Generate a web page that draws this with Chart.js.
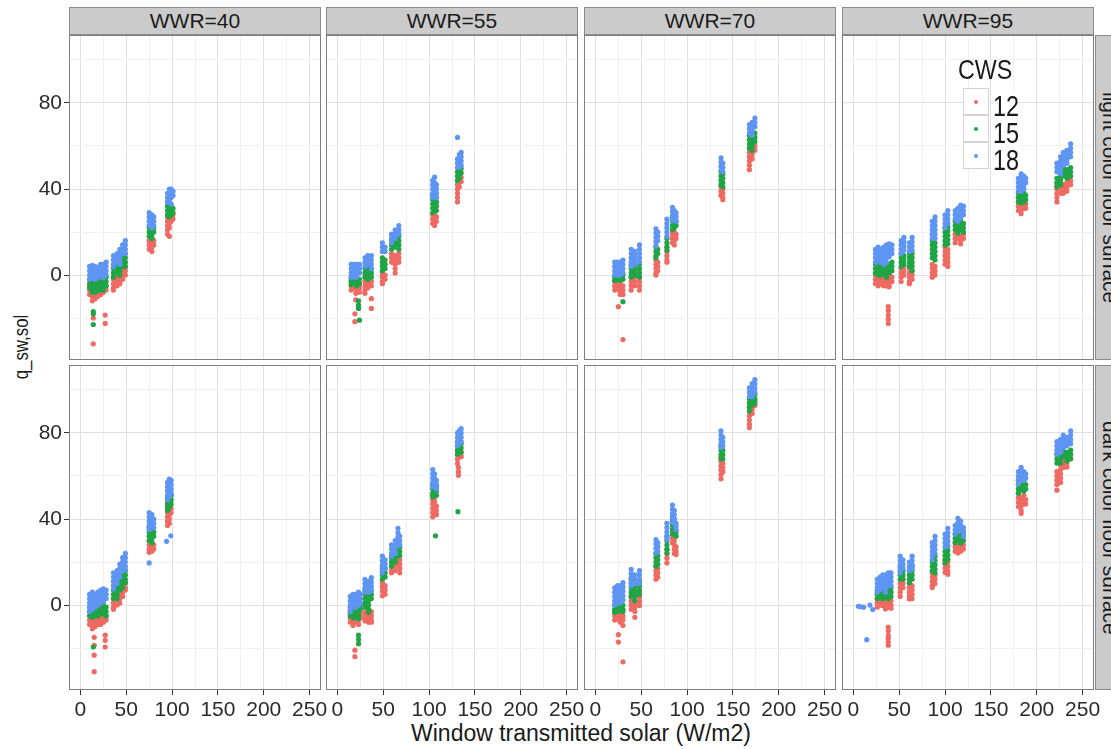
<!DOCTYPE html>
<html>
<head>
<meta charset="utf-8">
<script src="https://cdn.jsdelivr.net/npm/chart.js@4.4.0/dist/chart.umd.min.js"></script>
<style>
  body { margin: 0; width: 1111px; height: 749px; overflow: hidden; position: relative; background: #fff;
         font-family: "Liberation Sans", Arial, sans-serif; color: #1a1a1a; }
  canvas { position: absolute; }
  .strip { position: absolute; box-sizing: border-box; background: #cbcbcb; border: 1px solid #8a8a8a;
           font-size: 21px; display: flex; align-items: center; justify-content: center; white-space: nowrap; }
  .side { writing-mode: vertical-rl; }
  .title { position: absolute; white-space: nowrap; }
  .legend { position: absolute; z-index: 5; }
  .key { position: absolute; box-sizing: border-box; width: 26px; height: 27px; background: #fff; border: 1px solid #d3d3d3; }
  .key i { position: absolute; left: 10px; top: 10.5px; width: 4px; height: 4px; border-radius: 50%; }
  .lab { position: absolute; font-size: 30px; line-height: 27px; background: #fff; transform: scaleX(0.78); transform-origin: left center; }
</style>
</head>
<body>
<script>
// facet labels and legend
const columnLabels = ['WWR=40', 'WWR=55', 'WWR=70', 'WWR=95'];
const rowLabels = ['light color floor surface', 'dark color floor surface'];
const cwsLabels = ['12', '15', '18'];
const cwsColors = ['#EE6A62', '#1FA544', '#5E95F2'];

// axis ticks (minor ones get grid lines only)
const xTicks = [0, 25, 50, 75, 100, 125, 150, 175, 200, 225, 250];
const xLabelTicks = [0, 50, 100, 150, 200, 250];
const yTicks = [-20, 0, 20, 40, 60, 80, 100];
const yLabelTicks = [0, 40, 80];

// each entry: [x, y, y, ...]
// ---- light color floor surface ----
const light40_12 = [[10,-5,-7,-9],[13,-6,-8,-10,-12],[16,-5,-7,-9,-11],[19,-6,-8,-10],[22,-5,-7,-9],[25,-6,-8],[28,-5,-7],
  [14,-20,-32],[27,-18.6,-22.5],
  [36,-2,-4,-6,-7],[40,-1,-3,-5],[43,0,-2,-4],[46,2,0,-2],[49,4,2,0],
  [75,16,14,12],[78,17,15,13,11],[80,16,14],
  [95,27,25,23,21,19],[97,28,26,24,22,18],[99,27,25],[101,28,26]];
const light40_15 = [[10,-2,-4,-6],[13,-2.5,-4.5,-6.5,-8],[16,-2,-4,-6,-8],[19,-3,-5,-7],[22,-1,-3,-5,-7],[25,-1,-3,-5,-7],[28,-1,-3,-5],
  [14,-17,-18,-23],
  [36,3,1,-1],[40,5,3,1],[43,6,4,2,0],[46,8,6,4],[49,10,8,6,4],
  [75,22,20,18],[78,21,19,17],[80,22,20],
  [95,32,30,28],[97,33,31,29,27],[99,32,30,28],[101,31,29]];
const light40_18 = [[10,4,2,0,-2],[13,4.5,2.5,0.5,-1.5],[16,4,2,0,-2],[19,3.5,1.5,-0.5],[22,5,3,1,-1],[25,5,3,1,-1],[28,6,4,2,0],
  [36,9,7,5,4],[40,10,8,6],[43,12,10,8,6,5],[46,14,12,10],[49,16,14,12,10],
  [75,29,27,25,23],[78,28,26,24,22],[80,27,25,23],
  [95,38,36,34],[97,40,38,36,34],[99,40,38,36,33],[101,39,37]];

const light55_12 = [[15,-3,-5,-7],[18,-4,-6],[21,-3,-5,-7],[24,-4,-6,-8],[20,-8.5,-11.5],[19,-18,-21.7],
  [30,-3,-5,-7,-8.5],[33,-2,-4,-6],[37,-3,-5,-11,-15.5],
  [49,1,-1,-3,-4],[52,0,-2],
  [59,10,8,6],[63,9,7,5,3,1],[67,10,8,6],
  [104,28,26,24],[106,28.5,26.5,24.5,23],[108,27,25],
  [131,44,42,40,38,36,34],[133,45,43,41],[135,45.5,43.5]];
const light55_15 = [[15,-1.5,-3,-4.5],[18,-2,-3.5],[21,-1,-3,-5],[24,-2,-4],[23,-12,-14,-15.5],[24,-21],
  [30,3,1,-1],[33,4,2,0,-2],[37,3,1,-1],
  [49,8,6,4,2],[52,7,5,3],
  [59,16,14,12],[63,19,17,15,13],[67,18,16,14,12],
  [104,37,35,33,31,29],[106,38,36,34],[108,36,34,32,30],
  [131,48,46,44],[133,49,47,45],[135,49.5,47.5]];
const light55_18 = [[15,5,3,1,-1],[18,5,3,1,-1],[21,5,3,1,-1],[24,5,3,1],
  [30,8,6,4],[33,9,7,5],[37,9,7,5,3],
  [49,15,13,11],[52,13,11],
  [59,19,17,15],[63,21,19,17],[67,23,21,19],
  [104,44,42,40,38,36],[106,45.5,43,41,39],[108,42,40,38,36],
  [131,64],[131,54,52,50],[133,56,54,52,50],[135,57,55,53,51]];

const light70_12 = [[21,-3,-5,-7],[24,-2.5,-4.5,-6.5],[27,-4,-6,-8,-9],[30,-5,-7,-9],[25,-14.7],[30,-30],
  [39,-1,-3,-5,-7],[43,-1,-3,-5],[48,-1,-3,-5,-7],
  [66,7,5,3,1,0],[68,6,4,2],
  [78,13,11,9,7,6],
  [84,21,19,17,15],[86,20,18,16,14],[88,19,17],
  [137,41,39,37],[139,40,38,36,35],
  [168,59,57,55,53,51,49],[171,58,56,54],[174,60,58]];
const light70_15 = [[21,-1,-2.5],[24,0,-2],[27,-1,-2.5],[30,0,-2],[30,-12.4],
  [39,5,3,1,-1],[43,4,2,0],[48,5,3,1,-1],
  [66,13,11,9,8],[68,12,10],
  [78,17,15,13,11.5],
  [84,27,25,23,21],[86,26,24,22],[88,25,23],
  [137,48,46,44,42],[139,47,45,43,41],
  [168,65,63,61,59],[171,64,62,60,58],[174,66,64,62]];
const light70_18 = [[21,6,4,2,0],[24,6,4,2,0],[27,6,4,2,0],[30,7,5,3,1],
  [39,12,10,8,6,4],[43,11,9,7,5],[48,14,12,10,8,6],
  [66,21.5,19.5,17.5,15.5,13.5],[68,20,18,16],
  [78,26,24,22,20,18],
  [84,31.5,29.5,27.5,25.5],[86,30,28,26],[88,29,27,25],
  [137,54.5,52.5,50.5,48.5],[139,52,50,48],
  [168,70,68,66],[171,71,69,67,65],[174,73,71,69]];

const light95_12 = [[24,0,-2,-4],[27,1,-1,-3,-5],[30,0,-2,-4],[33,0,-2,-4,-5],[36,-1,-3,-5],[39,0,-2,-4,-5.5],[42,-1,-3],
  [38,-14.7,-16.5,-18.6,-20.5,-22.5],
  [52,3,1,-1,-3],[55,4,2,0],[61,3,1,-1,-3,-4],[64,2,0,-2],
  [86,5,3,1,-1],[89,4,2,0],
  [100,13,11,9,7,5],[103,12,10,8,6,4],
  [111,19,17,15],[114,19,17],[117,18,16,14.5],[120,19,17],
  [180,36,34,32,30],[183,34,32,30,28.5],[186,35,33,31],[188,33,31],
  [222,42,40,38,36,34],[226,44,42,40,38],[229,42,40,38],[233,43,41,39],[237,44,42]];
const light95_15 = [[24,5,3,1],[27,5,3,1,0],[30,4,2,0],[33,5,3,1],[36,5,3,1,-1],[39,5,3,1],[42,6,4,2],
  [52,10,8,6,4],[55,9,7,5],[61,10,8,6,4],[64,10,8,6,4,2],
  [86,16,14,12,10,8],[89,15,13,11,9,7],
  [100,22,20,18,16,14],[103,22.5,20.5,18.5,16.5,14.5],
  [111,25,23,21],[114,25.5,23.5,21.5,19.5],[117,25,23,21],[120,24,22,20],
  [180,38,36,34],[183,37,35,33.5],[186,38,36,34],[188,37,35],
  [222,45,43,41],[226,48,46,44,42],[229,50,48,46],[233,49,47,45],[237,50,48,46]];
const light95_18 = [[24,12,10,8,6],[27,13,11,9,7],[30,12,10,8,6],[33,13,11,9,7,5],[36,14,12,10,8,6],[39,14.5,12.5,10.5,8.5],[42,14,12,10],
  [52,16,14,12,10],[55,17.5,15.5,13.5,11.5],[61,15,13,11],[64,17.5,15.5,13.5,11.5],
  [86,25,23,21,19,17],[89,27,25,23,21,19,17],
  [100,28,26,24,22],[103,30,28,26,24],
  [111,30,28,26],[114,31,29,27,25],[117,32.5,30.5,28.5,26.5],[120,32,30,28],
  [180,45,43,41,39],[183,47,45,43,41,39],[186,46,44,42,40],[188,45,43],
  [222,52,50,48],[226,55,53,51,49,47],[229,57,55,53,51],[233,58,56,54,52],[237,61,59,57,55]];

// ---- dark color floor surface ----
const dark40_12 = [[10,-5,-7,-9],[13,-5,-7,-9,-11],[16,-6,-8,-10],[19,-5,-7,-9],[22,-5,-7,-9],[25,-6,-8],[28,-5,-7],
  [15,-15,-18.7,-23.3,-31],[27,-14,-16.4,-19.5],
  [36,3,1,-1,-2],[40,4,2,0],[43,7,5,3,1],[46,8,6,4],[49,10,8,7],
  [75,30,28,26,24.5],[78,29,27,25],[80,28,26],
  [95,47,45,43,41,39,37],[97,46,44,42,40,38],[99,45,43]];
const dark40_15 = [[10,-1,-3,-5],[13,-1,-3,-5,-5.7],[16,-1,-3,-5],[19,-1,-3,-5],[22,0,-2,-4],[25,0,-2,-4],[28,-1,-3,-5],[14,-19.5],
  [36,7,5,3],[40,9,7,5,3],[43,13,11,9,7],[46,14,12,10,8],[49,16,14,12,10.5],
  [75,36,34,32,30],[78,35,33,31,29],[80,34,32],
  [95,50,48,46,44],[97,51.5,49.5,47.5,45.5],[99,51,49,47]];
const dark40_18 = [[10,5,3,1,-1,-3],[13,6,4,2,0,-2],[16,5,3,1,-1],[19,6,4,2,0],[22,7,5,3,1],[25,7.5,5.5,3.5,1.5],[28,7,5,3],
  [36,15,13,11,9,7.5],[40,16,14,12,10],[43,19,17,15,13],[46,22,20,18,16],[49,24,22,20,18,16.5],
  [75,43,41,39,37,35],[78,42,40,38,36],[80,40,38,36],[75,19.6],
  [95,57,55,53,51,49],[97,58.5,56.5,54.5,52.5,50.5],[99,58,56,54,52],[94,29.6],[98.6,32.2]];

const dark55_12 = [[14,-4,-6,-8],[17,-3.5,-5.5,-7.5,-9.5],[20,-4,-6,-8],[23,-5,-7,-9],[25,-4,-6],[19,-21,-24],
  [30,-3.4,-5.4,-7.4],[34,-4,-6,-8],[37,-3,-5,-7,-8],
  [49,10.4,8.4,6.4,4.3],[52,9,7,5],
  [59,20,18,16,15],[63,22,20,18,16],[66,22.7,20.7,18.7],[68,21,19,17,15],
  [104,51,49,47,45,43,41],[106,50,48,46,44],[108,46,44,42],
  [131,71.8,69.8,67.8,65.8],[132,64,62,60.3],[135,71,69]];
const dark55_15 = [[14,-1,-3,-5],[17,0,-2,-4,-6],[20,-1,-3,-5],[23,-1,-3,-5,-6.4],[25,0,-2],[23,-14,-16,-18],
  [30,7,5,3,1,-1],[34,6,4,2,0,-2,-3.4],[37,7,5,3],
  [49,18,16,14,12],[52,17,15,13],
  [59,22,20,18],[63,24,22,20],[66,28.8,26.8,24.8,22.8],[68,27,25,23],
  [104,56,54,52,50.3],[106,56.4,54.4,52.4],[108,55,53,51],[107,32.2],
  [131,76,74,72,70.2],[133,76.4,74.4,72.4],[135,75,73,71],[131.5,43.4]];
const dark55_18 = [[14,4,2,0,-2,-3],[17,5,3,1,-1],[20,5,3,1,-1],[23,6,4,2,0],[25,5,3,1],
  [30,12,10,8,6],[34,11,9,7,6],[37,12.7,10.7,8.7,6.7],
  [49,22.7,20.7,18.7,16.7,15],[52,21,19,17],
  [59,28,26,24,22.7],[63,30,28,26,24],[66,35.7,33.7,31.7,29.7,27.7],[68,32,30,28],
  [104,63,61,59,57,55],[106,61,59,57,55],[108,58,56,54],
  [131,80,78,76,74],[133,81,79,77,75],[135,82,80,78,76]];

const dark70_12 = [[21,-3,-5,-7],[24,-2.6,-4.6,-6.6],[27,-4,-6,-8],[30,-5,-7,-9.5],[25,-13.8,-17.2],[30,-26.4],
  [39,4,2,0,-2],[43,1,-1,-3,-5.7],[48,5.8,3.8,1.8,-0.2],
  [66,18,16,14,12],[68,17,15,13],
  [78,25.8,23.8,21.8,19.6],
  [84,35,33,31,29],[86,30,28,26,24],[88,27,25,23.5],
  [137,68.7,66.7,64.7,62.7,60.7,58.7],[139,66,64,62],
  [168,94,92,90,88,86,84,82.5],[171,93,91,89],[174,94.8,92.8]];
const dark70_15 = [[21,0,-2,-3.4],[24,0.5,-1.5,-3],[27,0,-2],[30,0,-2,-3],
  [39,12,10,8,6,4],[43,8,6,4,2],[48,11,9,7,5],
  [66,24,22,20,18],[68,23,21,19],
  [78,31.9,29.9,27.9,25.9,24.2],
  [84,41,39,37,35,33],[86,40,38,36,34],[88,34,32],
  [137,74,72,70,68],[139,72,70,68],
  [168,96,94,92,90.2],[171,97,95,93],[174,97.9,95.9,93.9]];
const dark70_18 = [[21,8,6,4,2,0],[24,9,7,5,3,1],[27,9,7,5,3,1],[30,10.4,8.4,6.4,4.4,2.4],
  [39,16.6,14.6,12.6,10.6,9],[43,14,12,10],[48,16,14,12,10],
  [66,30.4,28.4,26.4,24.2],[68,29,27,25],
  [78,38,36,34,32,30.4],
  [84,46.5,44.5,42.5,40.5,38.5],[86,44,42,40,38],[88,38,36.5,35],
  [137,81,79,77,75,73.3],[139,78,76,74],
  [168,101,99,97],[171,103,101,99,97],[174,104.8,102.8,100.8,98.8]];

const dark95_12 = [[26,5,3,1,-1],[29,4,2,0],[32,5.8,3.8,1.8,-0.2],[35,2,0,-1.8],[38,3,1,-1],[41,2,0,-1.5],
  [38,-10.3,-12,-14.1,-15.5,-17.2,-18.7],
  [51,10,8,6,4],[54,12,10,8],[61,10,8,6,4,2.8],[64,9,7,5,3],
  [86,15,13,11,9,8.1],[89,14,12,10],
  [100,21.2,19.2,17.2,15.2],[103,20,18,16,14.3],
  [111,29,27,25],[114,30.4,28.4,26.4,24.2],[117,29,27,25],[120,28,26],
  [180,51.8,49.8,47.8,45.8],[183,50,48,46,44,42.6],[186,51,49,47],[188,49,47],
  [222,62,60,58,56,53.4],[226,65,63,61,59,57],[229,68,66,64],[233,70.2,68.2,66.2,64.2],[237,70,68]];
const dark95_15 = [[26,7,5,3],[29,8,6,4],[32,8.9,6.9,4.9,2.9],[35,8,6,4],[38,8,6,4,3],[41,8,6,4],
  [51,18,16,14,12],[54,16,14,12],[61,16,14,12,10.4],[64,18,16,14,12],
  [86,20,18,16],[89,22.7,20.7,18.7,16.7,15],
  [100,25,23,21,19.6],[103,27.3,25.3,23.3,21.3],
  [111,33,31,29],[114,36.5,34.5,32.5,30.5],[117,35,33,31,28.8],[120,34,32,30],
  [180,58,56,54,52],[183,59.5,57.5,55.5,53.5],[186,57,55,53],[188,56,54],
  [222,70,68,66],[226,72,70,68,66],[229,73.3,71.3,69.3],[233,71,69,67],[237,72,70,68]];
const dark95_18 = [[5.4,-0.6],[8,-0.8],[11,-1],[18,0],[21,-2.1],[14.5,-16.1],
  [26,12,10,8,6],[29,13,11,9,7],[32,14,12,10,8],[35,14,12,10,8,6],[38,15,13,11,9],[41,15,13,11,9],
  [51,22.7,20.7,18.7,16.7,15],[54,21,19,17],[61,20,18,16],[64,22.7,20.7,18.7,16.7],
  [86,29,27,25,23,21],[89,31.9,29.9,27.9,25.9,23.9],
  [100,33,31,29,27],[103,35.7,33.7,31.7,29.7,27.7],
  [111,37,35,33],[114,40.3,38.3,36.3,34.3],[117,39,37,35],[120,36,34,32],
  [180,62,60,58,56.4],[183,64,62,60,58],[186,62,60,58],[188,61,59],
  [222,76,74,72,70.2],[226,77,75,73,71],[229,79,77,75,73],[233,78,76,74],[237,81,79,77,75]];

const panels = [
  [[light40_12, light40_15, light40_18], [light55_12, light55_15, light55_18],
   [light70_12, light70_15, light70_18], [light95_12, light95_15, light95_18]],
  [[dark40_12, dark40_15, dark40_18], [dark55_12, dark55_15, dark55_18],
   [dark70_12, dark70_15, dark70_18], [dark95_12, dark95_15, dark95_18]]
];

// page layout
const panelLeft = [69, 326, 584, 842];
const panelTop = [35, 365];
const panelW = 252, panelH = 325;
const yAxisW = 69, xAxisH = 40, padRight = 8;
const tickFont = { family: 'Liberation Sans', size: 21 };

function toPoints(cols) {
  return cols.flatMap(c => c.slice(1).map(y => ({ x: c[0], y: y })));
}

function addDiv(cls, text, css) {
  const d = document.createElement('div');
  d.className = cls;
  d.textContent = text;
  Object.assign(d.style, css);
  document.body.appendChild(d);
  return d;
}

// grey frame round every panel
const panelFrame = {
  id: 'panelFrame',
  afterDraw(chart) {
    const a = chart.chartArea, c = chart.ctx;
    c.save();
    c.strokeStyle = '#7f7f7f';
    c.lineWidth = 1;
    c.strokeRect(a.left + 0.5, a.top + 0.5, a.right - a.left - 1, a.bottom - a.top - 1);
    c.restore();
  }
};

// keep the plot area exactly where the layout wants it
function noScalePadding(s) {
  s.paddingTop = 0; s.paddingBottom = 0; s.paddingLeft = 0; s.paddingRight = 0;
}

// strips
columnLabels.forEach((t, i) => addDiv('strip', t, { left: panelLeft[i] + 'px', top: '7px', width: panelW + 'px', height: '28px' }));
rowLabels.forEach((t, r) => addDiv('strip side', t, { left: '1095px', top: panelTop[r] + 'px', width: '30px', height: panelH + 'px' }));

// axis titles
addDiv('title', 'Window transmitted solar (W/m2)', { left: '581px', top: '733px', fontSize: '23px', transform: 'translate(-50%, -50%)' });
addDiv('title', 'q_sw,sol', { left: '21px', top: '347px', fontSize: '20px', transform: 'translate(-50%, -50%) rotate(-90deg) scaleX(0.84)' });

// legend
addDiv('title legend', 'CWS', { left: '958px', top: '56px', fontSize: '28px', lineHeight: '28px', transform: 'scaleX(0.83)', transformOrigin: 'left center' });
cwsLabels.forEach((t, i) => {
  const k = addDiv('key legend', '', { left: '963px', top: (88 + 27 * i) + 'px' });
  const dot = document.createElement('i');
  dot.style.background = cwsColors[i];
  k.appendChild(dot);
  addDiv('lab legend', t, { left: '993px', top: (92 + 27 * i) + 'px' });
});

// one chart per facet
panels.forEach((row, r) => {
  row.forEach((series, c) => {
    const leftCol = c === 0, bottomRow = r === 1;
    const cv = document.createElement('canvas');
    const w = (leftCol ? yAxisW : 0) + panelW + padRight;
    const h = panelH + (bottomRow ? xAxisH : 0);
    cv.width = w; cv.height = h;
    cv.style.left = (leftCol ? 0 : panelLeft[c]) + 'px';
    cv.style.top = panelTop[r] + 'px';
    cv.style.width = w + 'px'; cv.style.height = h + 'px';
    document.body.appendChild(cv);

    // blue first so it is drawn on top
    const datasets = [2, 1, 0].map(i => ({
      label: cwsLabels[i],
      data: toPoints(series[i]),
      backgroundColor: cwsColors[i],
      borderWidth: 0,
      pointRadius: 2.6,
      pointHoverRadius: 2.6
    }));

    new Chart(cv, {
      type: 'scatter',
      data: { datasets: datasets },
      plugins: [panelFrame],
      options: {
        responsive: false,
        animation: false,
        events: [],
        layout: { padding: { top: 0, left: 0, bottom: 0, right: padRight }, autoPadding: false },
        plugins: { legend: { display: false }, tooltip: { enabled: false } },
        scales: {
          x: {
            type: 'linear',
            min: -12.5,
            max: 262.5,
            afterBuildTicks: s => { s.ticks = xTicks.map(v => ({ value: v })); },
            afterFit: s => { s.height = bottomRow ? xAxisH : 0; noScalePadding(s); },
            border: { display: false },
            grid: {
              color: ctx => xLabelTicks.includes(ctx.tick.value) ? '#e0e0e0' : '#f1f1f1',
              drawTicks: bottomRow,
              tickLength: 5,
              tickColor: ctx => xLabelTicks.includes(ctx.tick.value) ? '#333' : 'rgba(0,0,0,0)'
            },
            ticks: {
              display: bottomRow,
              autoSkip: false,
              maxRotation: 0,
              padding: 3,
              color: '#2b2b2b',
              font: tickFont,
              callback: v => xLabelTicks.includes(v) ? String(v) : ''
            }
          },
          y: {
            type: 'linear',
            min: -39.5,
            max: 111.6,
            afterBuildTicks: s => { s.ticks = yTicks.map(v => ({ value: v })); },
            afterFit: s => { s.width = leftCol ? yAxisW : 0; noScalePadding(s); },
            border: { display: false },
            grid: {
              color: ctx => yLabelTicks.includes(ctx.tick.value) ? '#e0e0e0' : '#f1f1f1',
              drawTicks: leftCol,
              tickLength: 5,
              tickColor: ctx => yLabelTicks.includes(ctx.tick.value) ? '#333' : 'rgba(0,0,0,0)'
            },
            ticks: {
              display: leftCol,
              padding: 2,
              color: '#2b2b2b',
              font: tickFont,
              callback: v => yLabelTicks.includes(v) ? String(v) : ''
            }
          }
        }
      }
    });
  });
});
</script>
</body>
</html>
